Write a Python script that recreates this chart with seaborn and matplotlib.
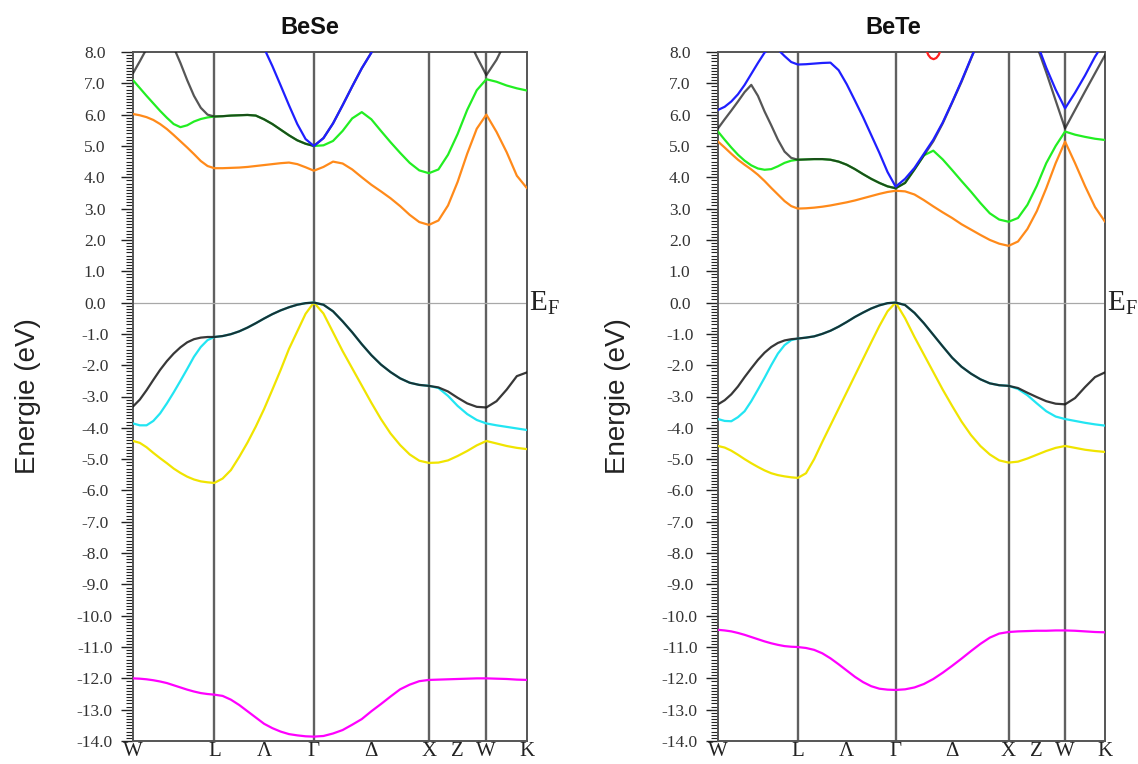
import numpy as np
import matplotlib
matplotlib.use("Agg")
import matplotlib.pyplot as plt
import matplotlib.transforms as mtrans
import seaborn as sns

# ---------------- k-path ----------------
seg_lengths = [0.7071, 0.8660, 1.0, 0.5, 0.3536]   # W-L, L-G, G-X, X-W, W-K
seg_steps = [12, 12, 12, 6, 4]
sym_labels = ["W", "L", "Γ", "X", "W", "K"]
mid_labels = ["Λ", "Δ", "Z"]                          # middles of L-G, G-X, X-W
titles = ["BeSe", "BeTe"]

# ---------------- BeSe bands (eV) ----------------
bese_magenta = [-12.0, -12.01, -12.03, -12.06, -12.1, -12.15, -12.22, -12.29, -12.36, -12.42, -12.47, -12.5, -12.52,
                -12.56, -12.68, -12.85, -13.05, -13.25, -13.45, -13.59, -13.7, -13.78, -13.82, -13.85, -13.86,
                -13.84, -13.76, -13.65, -13.48, -13.3, -13.05, -12.82, -12.58, -12.35, -12.2, -12.09, -12.05,
                -12.04, -12.03, -12.02, -12.01, -12.0, -12.0,
                -12.01, -12.02, -12.04, -12.05]
bese_yellow = [-4.42, -4.48, -4.62, -4.8, -4.97, -5.13, -5.3, -5.44, -5.56, -5.65, -5.71, -5.74, -5.76,
               -5.62, -5.35, -4.93, -4.47, -3.96, -3.4, -2.78, -2.15, -1.48, -0.92, -0.36, 0.0,
               -0.35, -0.95, -1.55, -2.1, -2.65, -3.2, -3.72, -4.18, -4.55, -4.85, -5.05, -5.12,
               -5.11, -5.04, -4.9, -4.74, -4.56, -4.42,
               -4.5, -4.58, -4.64, -4.68]
bese_cyan = [-3.86, -3.92, -3.92, -3.78, -3.54, -3.22, -2.87, -2.5, -2.12, -1.73, -1.42, -1.2, -1.1,
             -1.07, -1.01, -0.92, -0.8, -0.66, -0.51, -0.37, -0.25, -0.15, -0.07, -0.02, 0.0,
             -0.07, -0.28, -0.6, -0.95, -1.33, -1.68, -1.98, -2.22, -2.42, -2.56, -2.63, -2.66,
             -2.73, -2.98, -3.3, -3.56, -3.75, -3.86,
             -3.92, -3.97, -4.02, -4.07]
bese_valence = [-3.32, -3.1, -2.8, -2.47, -2.15, -1.87, -1.63, -1.43, -1.27, -1.17, -1.12, -1.1, -1.1,
                -1.07, -1.01, -0.92, -0.8, -0.66, -0.51, -0.37, -0.25, -0.15, -0.07, -0.02, 0.0,
                -0.07, -0.28, -0.6, -0.95, -1.33, -1.68, -1.98, -2.22, -2.42, -2.56, -2.63, -2.66,
                -2.71, -2.84, -3.04, -3.22, -3.33, -3.35,
                -3.15, -2.78, -2.35, -2.23]
bese_orange = [6.02, 5.98, 5.92, 5.83, 5.7, 5.54, 5.35, 5.15, 4.95, 4.74, 4.52, 4.36, 4.29,
               4.29, 4.3, 4.31, 4.33, 4.36, 4.39, 4.42, 4.45, 4.47, 4.42, 4.32, 4.21,
               4.33, 4.5, 4.44, 4.25, 4.0, 3.76, 3.55, 3.33, 3.08, 2.8, 2.57, 2.48,
               2.62, 3.1, 3.85, 4.75, 5.55, 6.0,
               5.45, 4.8, 4.05, 3.65]
bese_green = [7.1, 6.85, 6.6, 6.36, 6.12, 5.9, 5.7, 5.6, 5.66, 5.78, 5.86, 5.91, 5.94,
              5.95, 5.97, 5.98, 5.99, 5.97, 5.85, 5.7, 5.52, 5.34, 5.18, 5.07, 5.0,
              5.02, 5.16, 5.48, 5.88, 6.08, 5.85, 5.48, 5.12, 4.78, 4.46, 4.22, 4.13,
              4.25, 4.72, 5.38, 6.15, 6.78, 7.13,
              7.05, 6.93, 6.84, 6.77]
bese_dark = [7.32, 7.7, 8.1, 8.5, 8.65, 8.55, 8.15, 7.65, 7.1, 6.6, 6.22, 6.0, 5.94,
             5.95, 5.97, 5.98, 5.99, 5.97, 5.85, 5.7, 5.52, 5.34, 5.18, 5.07, 5.0,
             5.25, 5.72, 6.3, 6.9, 7.48, 7.98, 8.5, 9.0, 9.4, 9.7, 9.9, 10.0,
             9.7, 9.3, 8.9, 8.5, 7.85, 7.26,
             7.75, 8.4, 8.9, 9.3]
bese_blue = [9.8, 9.85, 9.9, 9.95, 10.0, 10.05, 10.1, 10.1, 10.15, 10.15, 10.2, 10.2, 10.2,
             10.1, 9.85, 9.5, 9.1, 8.6, 8.12, 7.55, 6.93, 6.3, 5.7, 5.22, 5.0,
             5.25, 5.72, 6.3, 6.9, 7.48, 7.98, 8.5, 9.0, 9.4, 9.7, 9.9, 10.0,
             9.9, 9.7, 9.5, 9.3, 9.15, 9.1,
             9.2, 9.4, 9.6, 9.8]

# ---------------- BeTe bands (eV) ----------------
bete_magenta = [-10.45, -10.47, -10.5, -10.55, -10.61, -10.68, -10.75, -10.82, -10.88, -10.93, -10.97, -10.99, -11.0,
                -11.03, -11.09, -11.2, -11.36, -11.55, -11.75, -11.95, -12.12, -12.25, -12.33, -12.36, -12.37,
                -12.35, -12.29, -12.18, -12.02, -11.82, -11.6, -11.37, -11.13, -10.9, -10.7, -10.57, -10.52,
                -10.5, -10.49, -10.48, -10.48, -10.47, -10.47,
                -10.48, -10.5, -10.52, -10.53]
bete_yellow = [-4.58, -4.63, -4.73, -4.86, -5.0, -5.13, -5.25, -5.36, -5.45, -5.51, -5.55, -5.58, -5.6,
               -5.45, -5.0, -4.45, -3.92, -3.39, -2.86, -2.33, -1.8, -1.27, -0.75, -0.28, 0.0,
               -0.5, -1.1, -1.66, -2.22, -2.78, -3.3, -3.8, -4.23, -4.58, -4.85, -5.04, -5.11,
               -5.08, -4.98, -4.86, -4.74, -4.64, -4.58,
               -4.64, -4.7, -4.74, -4.77]
bete_cyan = [-3.72, -3.78, -3.79, -3.66, -3.47, -3.15, -2.78, -2.4, -2.0, -1.63, -1.36, -1.2, -1.15,
             -1.12, -1.08, -1.0, -0.9, -0.77, -0.62, -0.46, -0.32, -0.19, -0.09, -0.02, 0.0,
             -0.08, -0.33, -0.66, -1.03, -1.4, -1.76, -2.05, -2.27, -2.45, -2.58, -2.64, -2.66,
             -2.76, -2.96, -3.22, -3.47, -3.64, -3.72,
             -3.78, -3.84, -3.89, -3.93]
bete_valence = [-3.25, -3.12, -2.93, -2.68, -2.38, -2.1, -1.83, -1.6, -1.42, -1.29, -1.21, -1.17, -1.15,
                -1.12, -1.08, -1.0, -0.9, -0.77, -0.62, -0.46, -0.32, -0.19, -0.09, -0.02, 0.0,
                -0.08, -0.33, -0.66, -1.03, -1.4, -1.76, -2.05, -2.27, -2.45, -2.58, -2.64, -2.66,
                -2.73, -2.88, -3.02, -3.15, -3.23, -3.25,
                -3.05, -2.7, -2.38, -2.23]
bete_orange = [5.14, 4.95, 4.75, 4.56, 4.4, 4.25, 4.08, 3.88, 3.66, 3.45, 3.24, 3.08, 3.0,
               3.01, 3.03, 3.06, 3.1, 3.15, 3.2, 3.26, 3.33, 3.4, 3.47, 3.53, 3.57,
               3.55, 3.45, 3.27, 3.07, 2.88, 2.7, 2.5, 2.33, 2.16, 2.0, 1.88, 1.81,
               1.95, 2.35, 2.92, 3.65, 4.45, 5.14,
               4.45, 3.72, 3.05, 2.58]
bete_green = [5.46, 5.2, 4.95, 4.72, 4.53, 4.38, 4.28, 4.24, 4.26, 4.35, 4.46, 4.53, 4.56,
              4.57, 4.58, 4.58, 4.56, 4.5, 4.4, 4.26, 4.1, 3.95, 3.82, 3.71, 3.65,
              3.82, 4.25, 4.7, 4.85, 4.57, 4.23, 3.88, 3.54, 3.18, 2.85, 2.65, 2.58,
              2.7, 3.12, 3.73, 4.45, 5.0, 5.46,
              5.36, 5.29, 5.23, 5.19]
bete_dark = [5.56, 5.85, 6.13, 6.42, 6.72, 6.95, 6.6, 6.1, 5.66, 5.2, 4.82, 4.62, 4.56,
             4.57, 4.58, 4.58, 4.56, 4.5, 4.4, 4.26, 4.1, 3.95, 3.82, 3.71, 3.65,
             3.82, 4.25, 4.7, 5.15, 5.72, 6.38, 7.05, 7.78, 8.5, 9.0, 9.3, 9.5,
             9.3, 8.9, 8.2, 7.35, 6.45, 5.56,
             6.15, 6.74, 7.32, 7.9]
bete_blue = [6.15, 6.25, 6.42, 6.65, 6.95, 7.3, 7.65, 7.98, 8.15, 8.08, 7.87, 7.68, 7.6,
             7.61, 7.63, 7.65, 7.66, 7.42, 6.97, 6.45, 5.92, 5.35, 4.78, 4.17, 3.7,
             3.95, 4.3, 4.75, 5.2, 5.75, 6.4, 7.08, 7.8, 8.5, 9.0, 9.3, 9.5,
             9.3, 9.0, 8.3, 7.5, 6.8, 6.2,
             6.7, 7.25, 7.85, 8.35]
bete_red_frac = [0.26, 0.29, 0.31, 0.336, 0.36, 0.38, 0.41]   # along Gamma-X
bete_red = [8.15, 7.9, 7.81, 7.77, 7.81, 7.9, 8.15]

colors = {
    "magenta": "#ff00ff", "yellow": "#f0e400", "cyan": "#22e5f2",
    "valence": "#151515", "orange": "#ff8a1a", "green": "#22ee22",
    "dark": "#151515", "blue": "#1f1fff", "red": "#ff2020",
}
alphas = {"valence": 0.85, "dark": 0.72}
order = ["magenta", "yellow", "cyan", "valence", "orange", "green", "dark", "blue"]

panels = [
    {"magenta": bese_magenta, "yellow": bese_yellow, "cyan": bese_cyan,
     "valence": bese_valence, "orange": bese_orange, "green": bese_green,
     "dark": bese_dark, "blue": bese_blue},
    {"magenta": bete_magenta, "yellow": bete_yellow, "cyan": bete_cyan,
     "valence": bete_valence, "orange": bete_orange, "green": bete_green,
     "dark": bete_dark, "blue": bete_blue},
]

# k grid from path geometry
nodes = np.concatenate([[0.0], np.cumsum(seg_lengths)])
k = [0.0]
for i, (L, n) in enumerate(zip(seg_lengths, seg_steps)):
    k += list(nodes[i] + L * np.arange(1, n + 1) / n)
k = np.array(k)
mids = [(nodes[1] + nodes[2]) / 2, (nodes[2] + nodes[3]) / 2, (nodes[3] + nodes[4]) / 2]

sns.set_style("ticks")
plt.rcParams["font.family"] = ["Liberation Serif", "DejaVu Serif"]
plt.rcParams["axes.unicode_minus"] = False
plt.rcParams["mathtext.fontset"] = "custom"
plt.rcParams["mathtext.rm"] = "Liberation Serif"

fig = plt.figure(figsize=(11.38, 7.64), dpi=100)
ax_rects = [[133 / 1138, 1 - 741 / 764, 394 / 1138, 689 / 764],
            [718 / 1138, 1 - 741 / 764, 387 / 1138, 689 / 764]]
title_x = [310 / 1138, 893 / 1138]
ylabel_x = [-0.266, -0.258]

for p, (rect, bands) in enumerate(zip(ax_rects, panels)):
    ax = fig.add_axes(rect)
    for xv in nodes[1:-1]:
        ax.axvline(xv, color="#606060", lw=1.7, zorder=1)
    ax.axhline(0.0, color="#a8a8a8", lw=0.9, zorder=1)
    for name in order:
        sns.lineplot(x=k, y=bands[name], ax=ax, color=colors[name], lw=1.6,
                     alpha=alphas.get(name, 1.0), sort=False, estimator=None,
                     zorder=3, legend=False)
    if p == 1:
        kr = nodes[2] + np.array(bete_red_frac) * seg_lengths[2]
        sns.lineplot(x=kr, y=bete_red, ax=ax, color=colors["red"], lw=1.6,
                     sort=False, estimator=None, zorder=3, legend=False)

    ax.set_xlim(nodes[0], nodes[-1])
    ax.set_ylim(-14, 8)
    ax.set_xticks(list(nodes) + mids)
    ax.set_xticklabels(sym_labels + mid_labels, fontsize=15, color="#222222")
    ax.tick_params(axis="x", length=0, pad=1)
    ax.set_yticks(np.arange(-14, 8.01, 1.0))
    ax.set_yticks(np.arange(-14, 8.01, 0.1), minor=True)
    ax.set_yticklabels([f"{v:.1f}" for v in np.arange(-14, 8.01, 1.0)])
    ax.tick_params(axis="y", which="major", direction="out", length=8.6,
                   width=1.0, color="#222222", labelsize=12.5,
                   labelcolor="#333333", pad=19)
    ax.tick_params(axis="y", which="minor", direction="out", length=5.0,
                   width=0.8, color="#222222")
    plt.setp(ax.get_yticklabels(), ha="center")
    for s in ax.spines.values():
        s.set_color("#555555")
        s.set_linewidth(1.4)
        s.set_visible(True)
    ax.set_xlabel("")
    ax.set_ylabel("Energie (eV)", family=["Liberation Sans", "DejaVu Sans"],
                  fontsize=20, color="#222222")
    ax.yaxis.label.set_verticalalignment("center")
    ax.yaxis.set_label_coords(ylabel_x[p], 0.5)
    trans = mtrans.blended_transform_factory(ax.transAxes, ax.transData)
    ax.text(1.004, -0.25, r"$\mathrm{E}_{\mathrm{F}}$", transform=trans,
            fontsize=21, ha="left", va="baseline", color="#222222", clip_on=False)
    fig.text(title_x[p], 1 - 28 / 764, titles[p], ha="center", va="center",
             fontsize=17, fontweight="bold",
             family=["Liberation Sans", "DejaVu Sans"], color="#111111")

fig.savefig("out.png", dpi=100)
